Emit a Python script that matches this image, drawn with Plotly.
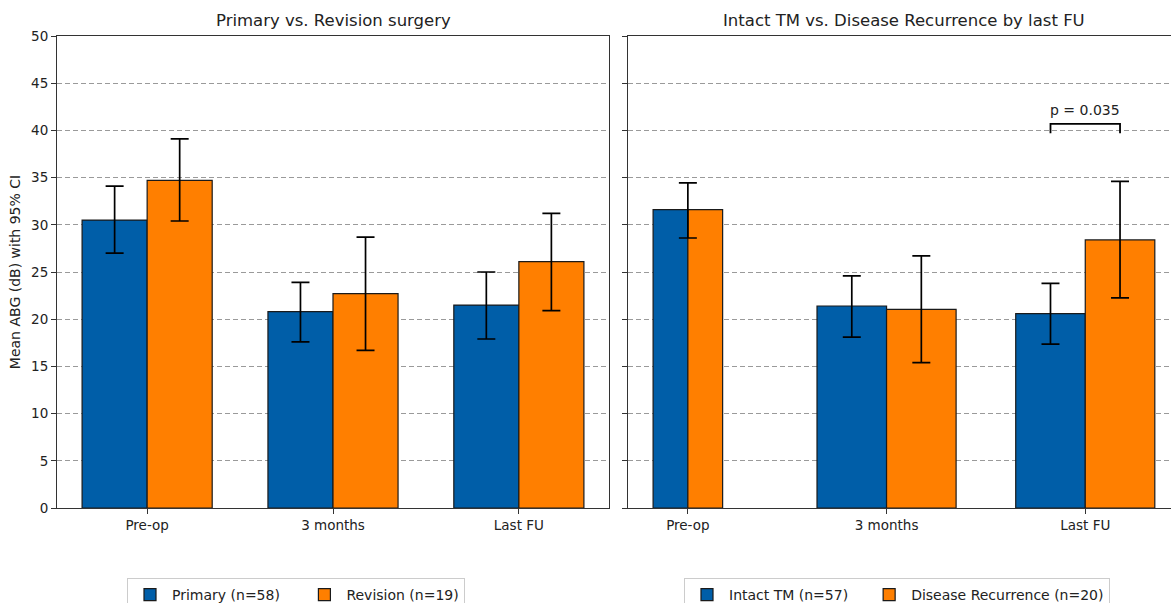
import numpy as np
import plotly.graph_objects as go

# ---------------- data ----------------
categories = ["Pre-op", "3 months", "Last FU"]

primary_label = "Primary (n=58)"
primary_mean = [30.5, 20.8, 21.5]
primary_lo = [27.0, 17.6, 17.9]
primary_hi = [34.1, 23.9, 25.0]

revision_label = "Revision (n=19)"
revision_mean = [34.7, 22.7, 26.1]
revision_lo = [30.4, 16.7, 20.9]
revision_hi = [39.1, 28.7, 31.2]

intact_label = "Intact TM (n=57)"
recur_label = "Disease Recurrence (n=20)"
preop_all_mean = 31.6
preop_all_lo = 28.6
preop_all_hi = 34.45
later_categories = ["3 months", "Last FU"]
intact_mean = [21.4, 20.6]
intact_lo = [18.1, 17.35]
intact_hi = [24.6, 23.8]
recur_mean = [21.05, 28.4]
recur_lo = [15.4, 22.25]
recur_hi = [26.7, 34.6]

p_text = "p = 0.035"
bracket_top = 40.7
bracket_bottom = 39.7

left_title = "Primary vs. Revision surgery"
right_title = "Intact TM vs. Disease Recurrence by last FU"
y_title = "Mean ABG (dB) with 95% CI"
y_ticks = list(range(0, 55, 5))

# ---------------- style ----------------
BLUE = "#005EA8"
ORANGE = "#FF7F00"
EDGE = "#1a1a1a"
FONT = "DejaVu Sans"
W = 0.35

W_FIG, H_FIG = 1171, 603
L, R, T, B = 57, 0, 36, 95
PW = W_FIG - L - R
PH = H_FIG - T - B


def px_x(p):
    return (p - L) / PW


def px_y(p):
    return (H_FIG - B - p) / PH


idx = np.arange(len(categories))
idx_later = idx[1:]

fig = go.Figure()


def err(mean, lo, hi):
    m = np.array(mean, dtype=float)
    return dict(type="data", symmetric=False,
                array=list(np.array(hi) - m), arrayminus=list(m - np.array(lo)),
                color="black", thickness=1.7, width=9)


def bar_marker(c):
    return dict(color=c, line=dict(color=EDGE, width=1.2))


# legend column spacing (matplotlib-like), added as non-collapsing spaces
GAP_L = "\u2003\u2005"
GAP_R = "\u2003"

# Left panel
fig.add_trace(go.Bar(x=idx - W / 2, y=primary_mean, width=W, name=primary_label + GAP_L,
                     marker=bar_marker(BLUE),
                     error_y=err(primary_mean, primary_lo, primary_hi),
                     xaxis="x", yaxis="y", legend="legend"))
fig.add_trace(go.Bar(x=idx + W / 2, y=revision_mean, width=W, name=revision_label,
                     marker=bar_marker(ORANGE),
                     error_y=err(revision_mean, revision_lo, revision_hi),
                     xaxis="x", yaxis="y", legend="legend"))

# Right panel: later time points
fig.add_trace(go.Bar(x=idx_later - W / 2, y=intact_mean, width=W, name=intact_label + GAP_R,
                     marker=bar_marker(BLUE),
                     error_y=err(intact_mean, intact_lo, intact_hi),
                     xaxis="x2", yaxis="y2", legend="legend2"))
fig.add_trace(go.Bar(x=idx_later + W / 2, y=recur_mean, width=W, name=recur_label,
                     marker=bar_marker(ORANGE),
                     error_y=err(recur_mean, recur_lo, recur_hi),
                     xaxis="x2", yaxis="y2", legend="legend2"))
# Right panel: combined Pre-op bar split into two halves
fig.add_trace(go.Bar(x=[idx[0] - W / 4], y=[preop_all_mean], width=W / 2,
                     marker=bar_marker(BLUE), showlegend=False,
                     xaxis="x2", yaxis="y2"))
fig.add_trace(go.Bar(x=[idx[0] + W / 4], y=[preop_all_mean], width=W / 2,
                     marker=bar_marker(ORANGE), showlegend=False,
                     xaxis="x2", yaxis="y2"))
fig.add_trace(go.Scatter(x=[idx[0]], y=[preop_all_mean], mode="markers",
                         marker=dict(size=1, opacity=0), showlegend=False,
                         error_y=err([preop_all_mean], [preop_all_lo], [preop_all_hi]),
                         xaxis="x2", yaxis="y2", hoverinfo="skip"))
# significance bracket
fig.add_trace(go.Scatter(x=[idx[2] - W / 2, idx[2] - W / 2, idx[2] + W / 2, idx[2] + W / 2],
                         y=[bracket_bottom, bracket_top, bracket_top, bracket_bottom],
                         mode="lines", line=dict(color="black", width=1.8),
                         showlegend=False, xaxis="x2", yaxis="y2", hoverinfo="skip"))

axis_common = dict(showline=True, linecolor="#333333", linewidth=1, ticks="outside",
                   ticklen=5, tickcolor="#333333", tickfont=dict(size=13.5, color="#222"),
                   zeroline=False, automargin=False)

grid_common = dict(showgrid=True, gridcolor="#9a9a9a", griddash="5px,3px", gridwidth=1)

left_dom = [0, px_x(609)]
right_dom = [px_x(628), 1.0]

legend_common = dict(orientation="h", xanchor="left", yanchor="top",
                     bordercolor="#cccccc", borderwidth=1, bgcolor="white",
                     font=dict(size=14), traceorder="normal", itemwidth=34)

fig.update_layout(
    width=W_FIG, height=H_FIG,
    margin=dict(l=L, r=R, t=T, b=B, autoexpand=False),
    paper_bgcolor="white", plot_bgcolor="white",
    font=dict(family=FONT, size=13, color="#222"),
    barmode="overlay",
    xaxis=dict(domain=left_dom, range=[-0.485, 2.485], tickvals=list(idx), ticktext=categories,
               showgrid=False, mirror=True, anchor="y", **axis_common),
    yaxis=dict(domain=[0, 1], range=[0, 50], tickvals=y_ticks, mirror=True, anchor="x",
               title=dict(text=y_title, font=dict(size=14), standoff=7),
               **grid_common, **axis_common),
    xaxis2=dict(domain=right_dom, range=[-0.30125, 2.4315], tickvals=list(idx), ticktext=categories,
                showgrid=False, mirror=True, anchor="y2", **axis_common),
    yaxis2=dict(domain=[0, 1], range=[0, 50], tickvals=y_ticks, mirror=False, anchor="x2",
                showticklabels=False, **grid_common, **axis_common),
    legend=dict(x=px_x(127), y=px_y(578), **legend_common),
    legend2=dict(x=px_x(684), y=px_y(578), **legend_common),
    annotations=[
        dict(text=left_title, x=px_x(333), y=px_y(21), xref="paper", yref="paper",
             showarrow=False, font=dict(size=16.5), xanchor="center", yanchor="middle"),
        dict(text=right_title, x=px_x(904), y=px_y(21), xref="paper", yref="paper",
             showarrow=False, font=dict(size=16.5), xanchor="center", yanchor="middle"),
        dict(text=p_text, x=idx[2], y=bracket_top + 0.4, xref="x2", yref="y2",
             showarrow=False, font=dict(size=14), xanchor="center", yanchor="bottom"),
    ],
)

fig.write_html("out.html", config={"displayModeBar": False},
               post_script="document.body.style.margin='0';document.body.style.overflow='hidden';")
